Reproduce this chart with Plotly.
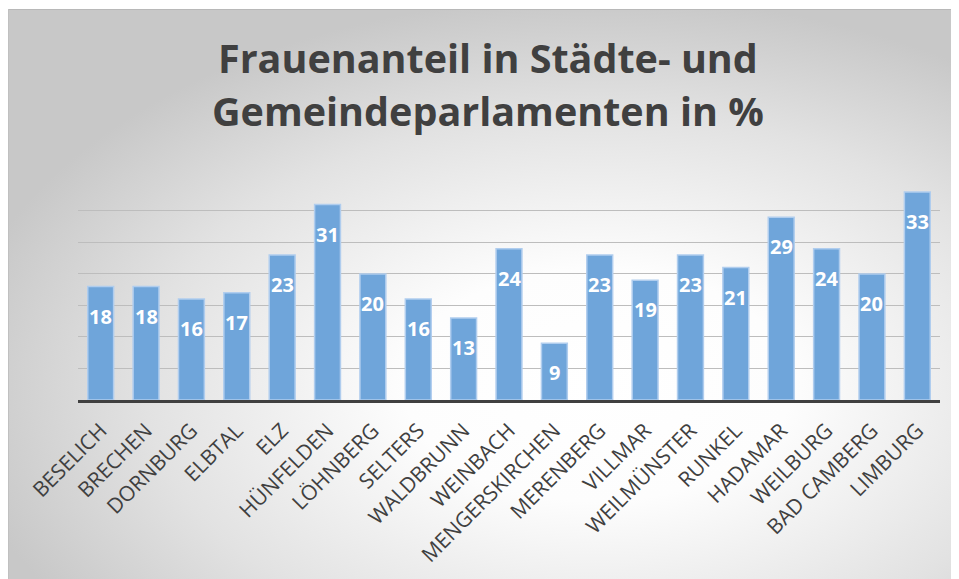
import base64
import plotly.graph_objects as go

# ---- data ----
categories = ["BESELICH", "BRECHEN", "DORNBURG", "ELBTAL", "ELZ", "HÜNFELDEN",
              "LÖHNBERG", "SELTERS", "WALDBRUNN", "WEINBACH", "MENGERSKIRCHEN",
              "MERENBERG", "VILLMAR", "WEILMÜNSTER", "RUNKEL", "HADAMAR",
              "WEILBURG", "BAD CAMBERG", "LIMBURG"]
values = [18, 18, 16, 17, 23, 31, 20, 16, 13, 24, 9, 23, 19, 23, 21, 29, 24, 20, 33]
title_lines = ["Frauenanteil in Städte- und", "Gemeindeparlamenten in %"]

# figure is offset by the 8px page margin: screen = fig + 8
W, H = 951, 571
L, T = 70, 171          # plot area left/top in figure px
PW, PH = 862, 221        # plot area size
R, B = W - L - PW, H - T - PH

FONT = "Open Sans"

fig = go.Figure()
fig.add_trace(go.Bar(
    x=categories, y=values,
    marker=dict(color="rgb(111,165,218)",
                line=dict(color="rgb(176,205,238)", width=1.5)),
    hoverinfo="x+y",
))

# value labels inside bar tops
for c, v in zip(categories, values):
    fig.add_annotation(x=c, y=v, text=f"<b>{v}</b>", showarrow=False,
                       yanchor="top", yshift=-14,
                       font=dict(family=FONT, size=20, color="white"))

# title (two lines, manual spacing)
for i, line in enumerate(title_lines):
    fig.add_annotation(xref="paper", yref="paper",
                       x=(480 - L) / PW, y=(H - B - (50 + 53 * i)) / PH,
                       text=f"<b>{line}</b>", showarrow=False,
                       xanchor="center", yanchor="middle",
                       font=dict(family=FONT, size=39.5, color="#404040"))

# radial gradient background with frame
svg = f'''<svg xmlns="http://www.w3.org/2000/svg" width="{W}" height="{H}" viewBox="0 0 {W} {H}" preserveAspectRatio="none">
<defs><radialGradient id="g" cx="0.62" cy="0.66" r="0.68">
<stop offset="0" stop-color="#ffffff"/>
<stop offset="0.3" stop-color="#fdfdfd"/>
<stop offset="0.7" stop-color="#e2e2e2"/>
<stop offset="1" stop-color="#c8c8c8"/>
</radialGradient></defs>
<rect x="0" y="0" width="{W}" height="{H}" fill="url(#g)"/>
<line x1="0" y1="1.5" x2="{W}" y2="1.5" stroke="#b8b8b8" stroke-width="1"/>
<rect x="0" y="0" width="{W}" height="1" fill="white"/>
<line x1="0.5" y1="1" x2="0.5" y2="{H}" stroke="#c0c0c0" stroke-width="1"/>
</svg>'''
src = "data:image/svg+xml;base64," + base64.b64encode(svg.encode()).decode()
fig.add_layout_image(dict(
    source=src, xref="paper", yref="paper",
    x=-L / PW, y=(H - B) / PH,
    sizex=W / PW, sizey=H / PH,
    xanchor="left", yanchor="top", sizing="stretch", layer="below",
))

fig.update_layout(
    width=W, height=H,
    margin=dict(l=L, r=R, t=T, b=B, pad=0, autoexpand=False),
    paper_bgcolor="white", plot_bgcolor="rgba(0,0,0,0)",
    bargap=0.43, showlegend=False,
    font=dict(family=FONT, color="#404040"),
)
fig.update_yaxes(range=[0, 35.05], tickvals=[5, 10, 15, 20, 25, 30, 35],
                 showticklabels=False,
                 showgrid=True, gridcolor="#bdbdbd", gridwidth=1,
                 zeroline=False, showline=False, fixedrange=True)
fig.update_xaxes(tickangle=-45, tickfont=dict(family=FONT, size=21, color="#404040"),
                 ticklabelstandoff=7,
                 showline=True, linecolor="#404040", linewidth=3,
                 ticks="", showgrid=False, fixedrange=True, automargin=False)

fig.write_html("out.html")
